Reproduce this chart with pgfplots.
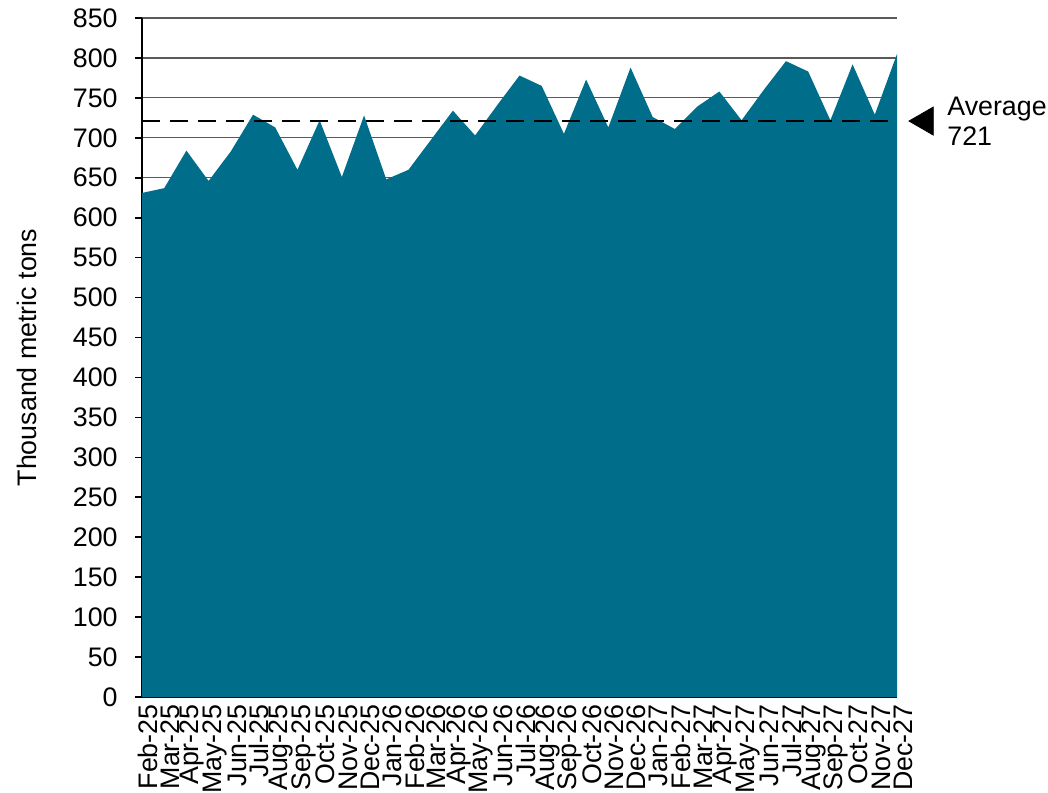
\documentclass[border=0pt]{standalone}
\usepackage{fontspec}
\setmainfont{Liberation Sans}
\usepackage{pgfplots}
\pgfplotsset{compat=1.18}
\definecolor{areacol}{RGB}{0,110,138}
\newcommand{\lblfont}{\fontsize{13.4}{15}\selectfont}
\pgfplotsset{
  layers/gridbelow/.define layer set={axis background,axis grid,main,axis ticks,axis lines,axis tick labels,axis descriptions,axis foreground}{},
}
\begin{document}
\begin{tikzpicture}
\begin{axis}[
    set layers=gridbelow,
    name=ax,
    scale only axis,
    width=377.5pt, height=339.5pt,
    xmin=0, xmax=34,
    ymin=0, ymax=850,
    ytick distance=50,
    xtick={0,...,34},
    xticklabels={Feb-25,Mar-25,Apr-25,May-25,Jun-25,Jul-25,Aug-25,Sep-25,Oct-25,Nov-25,Dec-25,
      Jan-26,Feb-26,Mar-26,Apr-26,May-26,Jun-26,Jul-26,Aug-26,Sep-26,Oct-26,Nov-26,Dec-26,
      Jan-27,Feb-27,Mar-27,Apr-27,May-27,Jun-27,Jul-27,Aug-27,Sep-27,Oct-27,Nov-27,Dec-27},
    axis x line=bottom, axis y line=left,
    axis line style={-, black, line width=1pt},
    tick align=outside,
    major tick length=3.5pt,
    xtick style={draw=none},
    ytick style={black, line width=0.8pt},
    ymajorgrids,
    major grid style={black!65, line width=0.55pt},
    /pgf/number format/assume math mode=true,
    yticklabel style={font=\lblfont, anchor=east, inner sep=0pt, xshift=-8.5pt},
    xticklabel style={font=\lblfont, rotate=90, anchor=east, inner sep=0pt, yshift=-3pt},
    ylabel={Thousand metric tons},
    ylabel style={font=\lblfont, at={(axis description cs:-0.1523,0.5)}, anchor=center},
    clip=false,
  ]
  \addplot[fill=areacol, draw=none] coordinates {
    (0,631) (1,637) (2,684) (3,646) (4,683) (5,729) (6,713) (7,660) (8,722) (9,651)
    (10,728) (11,648) (12,660) (13,697) (14,734) (15,703) (16,741) (17,778) (18,765)
    (19,705) (20,773) (21,713) (22,788) (23,726) (24,711) (25,739) (26,758) (27,722)
    (28,760) (29,796) (30,783) (31,722) (32,792) (33,729) (34,805)
  } \closedcycle;
  \addplot[black, line width=1pt, dash pattern=on 9pt off 5pt] coordinates {(0,721) (34,721)};
  \addplot[only marks, mark=triangle*, mark size=8.1pt, mark options={rotate=90, fill=black, draw=none}] coordinates {(35.27,721)};
  \node[anchor=west, align=left, inner sep=0pt, font=\lblfont] at (axis cs:36.25,721) {Average\\721};
\end{axis}
\pgfresetboundingbox
\path[use as bounding box] (-71pt,-47.5pt) rectangle (453pt,348.5pt);
\end{tikzpicture}
\end{document}
